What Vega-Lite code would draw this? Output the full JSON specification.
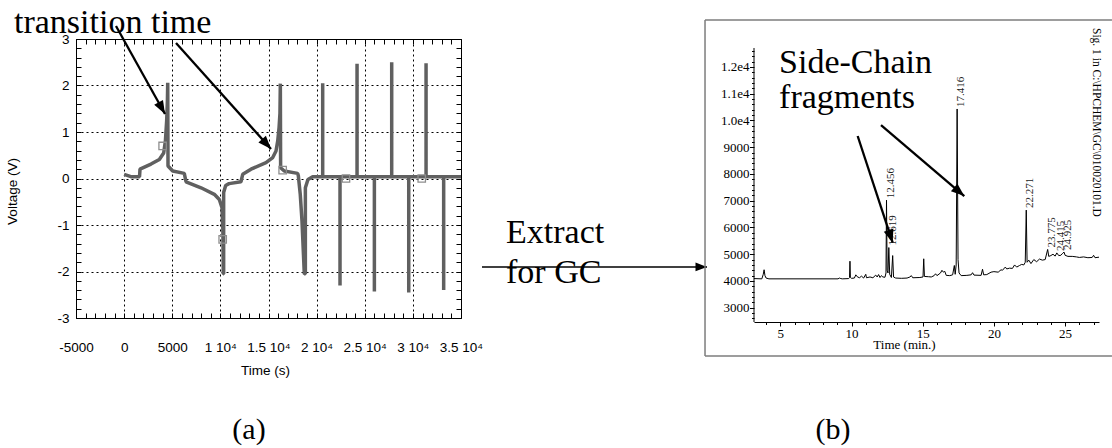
{
  "$schema": "https://vega.github.io/schema/vega-lite/v6.json",
  "padding": 0,
  "autosize": {"type": "pad"},
  "bounds": "flush",
  "spacing": 293,
  "config": {
    "view": {"stroke": null},
    "axis": {
      "labelFont": "Liberation Sans",
      "titleFont": "Liberation Sans",
      "labelColor": "black",
      "titleColor": "black",
      "tickColor": "black",
      "domainColor": "black",
      "titleFontWeight": "normal",
      "labelFlush": false,
      "labelOverlap": false,
      "labelBound": false
    }
  },
  "hconcat": [
    {
      "width": 385,
      "height": 279,
      "view": {"stroke": "black", "strokeWidth": 1},
      "resolve": {"axis": {"x": "independent", "y": "independent"}},
      "layer": [
        {
          "data": {
            "values": [
              {"i": 1, "t": 0, "v": 0.09}, {"i": 2, "t": 700, "v": 0.04}, {"i": 3, "t": 1600, "v": 0.04},
              {"i": 4, "t": 1650, "v": 0.2}, {"i": 5, "t": 2790, "v": 0.31}, {"i": 6, "t": 3660, "v": 0.41},
              {"i": 7, "t": 4110, "v": 0.55}, {"i": 8, "t": 4290, "v": 0.81}, {"i": 9, "t": 4420, "v": 1.24},
              {"i": 10, "t": 4500, "v": 1.7}, {"i": 11, "t": 4530, "v": 2.06}, {"i": 12, "t": 4560, "v": 0.27},
              {"i": 13, "t": 5050, "v": 0.16}, {"i": 14, "t": 6250, "v": 0.11}, {"i": 15, "t": 6430, "v": -0.07},
              {"i": 16, "t": 7990, "v": -0.2}, {"i": 17, "t": 9370, "v": -0.34}, {"i": 18, "t": 9890, "v": -0.45},
              {"i": 19, "t": 10170, "v": -0.63}, {"i": 20, "t": 10260, "v": -1.1}, {"i": 21, "t": 10300, "v": -2.05},
              {"i": 22, "t": 10340, "v": -2.05}, {"i": 23, "t": 10340, "v": -0.3}, {"i": 24, "t": 10550, "v": -0.15},
              {"i": 25, "t": 10900, "v": -0.11}, {"i": 26, "t": 12140, "v": -0.07}, {"i": 27, "t": 12320, "v": 0.09},
              {"i": 28, "t": 13180, "v": 0.2}, {"i": 29, "t": 14740, "v": 0.34}, {"i": 30, "t": 15440, "v": 0.45},
              {"i": 31, "t": 15780, "v": 0.59}, {"i": 32, "t": 15960, "v": 0.81}, {"i": 33, "t": 16100, "v": 1.1},
              {"i": 34, "t": 16190, "v": 1.4}, {"i": 35, "t": 16230, "v": 2.04}, {"i": 36, "t": 16260, "v": 0.23},
              {"i": 37, "t": 16640, "v": 0.16}, {"i": 38, "t": 18030, "v": 0.11}, {"i": 39, "t": 18100, "v": 0.06},
              {"i": 40, "t": 18300, "v": -0.34}, {"i": 41, "t": 18480, "v": -0.91}, {"i": 42, "t": 18720, "v": -2.05},
              {"i": 43, "t": 18830, "v": -2.05}, {"i": 44, "t": 18830, "v": -0.2}, {"i": 45, "t": 19100, "v": -0.02},
              {"i": 46, "t": 19590, "v": 0.04}, {"i": 47, "t": 20630, "v": 0.04}, {"i": 48, "t": 20630, "v": 2.05},
              {"i": 49, "t": 20630, "v": 0.04}, {"i": 50, "t": 22430, "v": 0.04}, {"i": 51, "t": 22430, "v": -2.3},
              {"i": 52, "t": 22430, "v": 0.04}, {"i": 53, "t": 24200, "v": 0.04}, {"i": 54, "t": 24200, "v": 2.47},
              {"i": 55, "t": 24200, "v": 0.04}, {"i": 56, "t": 26000, "v": 0.04}, {"i": 57, "t": 26000, "v": -2.43},
              {"i": 58, "t": 26000, "v": 0.04}, {"i": 59, "t": 27800, "v": 0.04}, {"i": 60, "t": 27800, "v": 2.5},
              {"i": 61, "t": 27800, "v": 0.04}, {"i": 62, "t": 29570, "v": 0.04}, {"i": 63, "t": 29570, "v": -2.45},
              {"i": 64, "t": 29570, "v": 0.04}, {"i": 65, "t": 31370, "v": 0.04}, {"i": 66, "t": 31370, "v": 2.48},
              {"i": 67, "t": 31370, "v": 0.04}, {"i": 68, "t": 33200, "v": 0.04}, {"i": 69, "t": 33200, "v": -2.4},
              {"i": 70, "t": 33200, "v": 0.04}, {"i": 71, "t": 35000, "v": 0.04}
            ]
          },
          "mark": {"type": "line", "color": "#606060", "strokeWidth": 3.5, "strokeJoin": "bevel", "clip": true},
          "encoding": {
            "x": {
              "field": "t", "type": "quantitative",
              "scale": {"domain": [-5000, 35000], "nice": false, "zero": false},
              "axis": {
                "orient": "bottom",
                "values": [-5000, 0, 5000, 10000, 15000, 20000, 25000, 30000, 35000],
                "labelExpr": "datum.value < 10000 ? '' + datum.value : (datum.value / 10000) + ' 10⁴'",
                "labelFontSize": 13.5, "labelPadding": 22,
                "ticks": false, "tickSize": 0, "domain": false,
                "grid": true, "gridColor": "black", "gridDash": [2, 3], "gridWidth": 1, "gridOpacity": 1,
                "title": "Time (s)", "titleFontSize": 13.5,
                "titleX": 189, "titleY": 56, "titleAlign": "center", "titleBaseline": "alphabetic"
              }
            },
            "y": {
              "field": "v", "type": "quantitative",
              "scale": {"domain": [-3, 3], "nice": false, "zero": false},
              "axis": {
                "orient": "left",
                "values": [-3, -2, -1, 0, 1, 2, 3],
                "labelExpr": "'' + datum.value",
                "labelFontSize": 13.5, "labelPadding": 7,
                "ticks": false, "tickSize": 0, "domain": false,
                "grid": true, "gridColor": "black", "gridDash": [2, 3], "gridWidth": 1, "gridOpacity": 1,
                "title": "Voltage (V)", "titleFontSize": 13.5,
                "titleX": -64, "titleY": 152, "titleAngle": -90, "titleAlign": "center", "titleBaseline": "middle"
              }
            },
            "order": {"field": "i", "type": "quantitative"}
          }
        },
        {
          "data": {
            "values": [
              {"t": 4000, "v": 0.7}, {"t": 10240, "v": -1.31}, {"t": 16470, "v": 0.18},
              {"t": 23050, "v": 0.0}, {"t": 30920, "v": 0.0}
            ]
          },
          "mark": {"type": "point", "shape": "square", "filled": false, "size": 55, "stroke": "#8e8e8e", "strokeWidth": 1.3, "opacity": 1},
          "encoding": {
            "x": {
              "field": "t", "type": "quantitative",
              "axis": {
                "orient": "bottom", "offset": -5, "tickSize": 5, "ticks": true, "labels": false, "domain": false, "grid": false, "title": null,
                "values": [-5000, -4000, -3000, -2000, -1000, 0, 1000, 2000, 3000, 4000, 5000, 6000, 7000, 8000, 9000, 10000, 11000, 12000, 13000, 14000, 15000, 16000, 17000, 18000, 19000, 20000, 21000, 22000, 23000, 24000, 25000, 26000, 27000, 28000, 29000, 30000, 31000, 32000, 33000, 34000, 35000]
              }
            },
            "y": {
              "field": "v", "type": "quantitative",
              "axis": {
                "orient": "left", "offset": -5, "tickSize": 5, "ticks": true, "labels": false, "domain": false, "grid": false, "title": null,
                "values": [-3, -2.8, -2.6, -2.4, -2.2, -2, -1.8, -1.6, -1.4, -1.2, -1, -0.8, -0.6, -0.4, -0.2, 0, 0.2, 0.4, 0.6, 0.8, 1, 1.2, 1.4, 1.6, 1.8, 2, 2.2, 2.4, 2.6, 2.8, 3]
              }
            }
          }
        },
        {
          "data": {"values": [{"t": -11440, "v": 3.135, "label": "transition time"}]},
          "mark": {"type": "text", "font": "Liberation Serif", "fontSize": 34, "align": "left", "baseline": "alphabetic", "color": "black", "clip": false},
          "encoding": {
            "x": {
              "field": "t", "type": "quantitative",
              "axis": {
                "orient": "top", "offset": -5, "tickSize": 5, "ticks": true, "labels": false, "domain": false, "grid": false, "title": null,
                "values": [-5000, -4000, -3000, -2000, -1000, 0, 1000, 2000, 3000, 4000, 5000, 6000, 7000, 8000, 9000, 10000, 11000, 12000, 13000, 14000, 15000, 16000, 17000, 18000, 19000, 20000, 21000, 22000, 23000, 24000, 25000, 26000, 27000, 28000, 29000, 30000, 31000, 32000, 33000, 34000, 35000]
              }
            },
            "y": {
              "field": "v", "type": "quantitative",
              "axis": {
                "orient": "right", "offset": -5, "tickSize": 5, "ticks": true, "labels": false, "domain": false, "grid": false, "title": null,
                "values": [-3, -2.8, -2.6, -2.4, -2.2, -2, -1.8, -1.6, -1.4, -1.2, -1, -0.8, -0.6, -0.4, -0.2, 0, 0.2, 0.4, 0.6, 0.8, 1, 1.2, 1.4, 1.6, 1.8, 2, 2.2, 2.4, 2.6, 2.8, 3]
              }
            },
            "text": {"field": "label"}
          }
        },
        {
          "data": {
            "values": [
              {"t": 39680, "v": -1.38, "label": "Extract"},
              {"t": 39680, "v": -2.24, "label": "for GC"}
            ]
          },
          "mark": {"type": "text", "font": "Liberation Serif", "fontSize": 34, "align": "left", "baseline": "alphabetic", "color": "black", "clip": false},
          "encoding": {
            "x": {"field": "t", "type": "quantitative", "axis": null},
            "y": {"field": "v", "type": "quantitative", "axis": null},
            "text": {"field": "label"}
          }
        },
        {
          "data": {"values": [{"t": 12975, "v": -5.6, "label": "(a)"}]},
          "mark": {"type": "text", "font": "Liberation Serif", "fontSize": 30, "align": "center", "baseline": "alphabetic", "color": "black", "clip": false},
          "encoding": {
            "x": {"field": "t", "type": "quantitative", "axis": null},
            "y": {"field": "v", "type": "quantitative", "axis": null},
            "text": {"field": "label"}
          }
        },
        {
          "data": {
            "values": [
              {"id": "a1", "t": -844, "v": 3.28, "t2": 4247, "v2": 1.387},
              {"id": "a2", "t": 5390, "v": 2.914, "t2": 15261, "v2": 0.634},
              {"id": "m", "t": 37180, "v": -1.903, "t2": 60560, "v2": -1.903}
            ]
          },
          "mark": {"type": "rule", "color": "black", "clip": false},
          "encoding": {
            "x": {"field": "t", "type": "quantitative", "axis": null},
            "y": {"field": "v", "type": "quantitative", "axis": null},
            "x2": {"field": "t2"},
            "y2": {"field": "v2"},
            "strokeWidth": {"condition": {"test": "datum.id === 'm'", "value": 1.5}, "value": 2.3}
          }
        },
        {
          "data": {
            "values": [
              {"id": "a1", "t": 4247, "v": 1.387},
              {"id": "a2", "t": 15261, "v": 0.634},
              {"id": "m", "t": 60560, "v": -1.903}
            ]
          },
          "mark": {"type": "point", "shape": "M0,0L-0.38,1L0.38,1Z", "filled": true, "color": "black", "opacity": 1, "clip": false},
          "encoding": {
            "x": {"field": "t", "type": "quantitative", "axis": null},
            "y": {"field": "v", "type": "quantitative", "axis": null},
            "angle": {"condition": [{"test": "datum.id === 'a1'", "value": 151}, {"test": "datum.id === 'a2'", "value": 138}], "value": 90},
            "size": {"condition": {"test": "datum.id === 'm'", "value": 530}, "value": 700}
          }
        },
        {
          "data": {"values": [{"t": -12792, "v": 3.817, "v2": -5.817}]},
          "mark": {"type": "rule", "opacity": 0, "strokeWidth": 0, "clip": false},
          "encoding": {
            "x": {"field": "t", "type": "quantitative", "axis": null},
            "y": {"field": "v", "type": "quantitative", "axis": null},
            "y2": {"field": "v2"}
          }
        }
      ]
    },
    {
      "width": 345,
      "height": 283,
      "view": {"stroke": null},
      "resolve": {"axis": {"x": "independent", "y": "independent"}},
      "layer": [
        {
          "data": {
            "values": [
              {"t": 3.15, "v": 4090}, {"t": 3.7, "v": 4080}, {"t": 3.8, "v": 4250}, {"t": 3.86, "v": 4420},
              {"t": 3.92, "v": 4200}, {"t": 4.0, "v": 4110}, {"t": 4.2, "v": 4080}, {"t": 9.05, "v": 4080},
              {"t": 9.15, "v": 4110}, {"t": 9.25, "v": 4090}, {"t": 9.35, "v": 4080}, {"t": 9.8, "v": 4090},
              {"t": 9.86, "v": 4130}, {"t": 9.89, "v": 4740}, {"t": 9.92, "v": 4130}, {"t": 10.0, "v": 4100},
              {"t": 10.2, "v": 4110}, {"t": 10.3, "v": 4230}, {"t": 10.4, "v": 4160}, {"t": 10.55, "v": 4120},
              {"t": 10.7, "v": 4180}, {"t": 10.85, "v": 4110}, {"t": 11.0, "v": 4250}, {"t": 11.05, "v": 4120},
              {"t": 11.3, "v": 4150}, {"t": 11.5, "v": 4120}, {"t": 11.7, "v": 4220}, {"t": 11.8, "v": 4150},
              {"t": 11.9, "v": 4240}, {"t": 12.0, "v": 4130}, {"t": 12.1, "v": 4200}, {"t": 12.2, "v": 4150},
              {"t": 12.35, "v": 4140}, {"t": 12.42, "v": 4300}, {"t": 12.456, "v": 7020}, {"t": 12.5, "v": 4400},
              {"t": 12.56, "v": 4300}, {"t": 12.619, "v": 5250}, {"t": 12.68, "v": 4250}, {"t": 12.8, "v": 4130},
              {"t": 12.89, "v": 4950}, {"t": 12.95, "v": 4150}, {"t": 13.1, "v": 4110}, {"t": 13.5, "v": 4100},
              {"t": 13.9, "v": 4110}, {"t": 14.1, "v": 4150}, {"t": 14.2, "v": 4200}, {"t": 14.3, "v": 4120},
              {"t": 14.8, "v": 4130}, {"t": 15.02, "v": 4150}, {"t": 15.07, "v": 4830}, {"t": 15.12, "v": 4170},
              {"t": 15.4, "v": 4160}, {"t": 15.6, "v": 4150}, {"t": 15.8, "v": 4200}, {"t": 15.9, "v": 4270},
              {"t": 16.0, "v": 4200}, {"t": 16.25, "v": 4300}, {"t": 16.35, "v": 4400}, {"t": 16.45, "v": 4330},
              {"t": 16.55, "v": 4360}, {"t": 16.65, "v": 4210}, {"t": 16.9, "v": 4200}, {"t": 17.1, "v": 4230},
              {"t": 17.22, "v": 4580}, {"t": 17.28, "v": 4250}, {"t": 17.35, "v": 4600}, {"t": 17.416, "v": 10430},
              {"t": 17.48, "v": 4800}, {"t": 17.55, "v": 4300}, {"t": 17.7, "v": 4200}, {"t": 18.1, "v": 4210},
              {"t": 18.4, "v": 4230}, {"t": 18.5, "v": 4310}, {"t": 18.6, "v": 4220}, {"t": 19.1, "v": 4210},
              {"t": 19.2, "v": 4440}, {"t": 19.28, "v": 4230}, {"t": 19.5, "v": 4240}, {"t": 19.8, "v": 4330},
              {"t": 20.0, "v": 4350}, {"t": 20.3, "v": 4330}, {"t": 20.5, "v": 4420}, {"t": 20.6, "v": 4400},
              {"t": 20.8, "v": 4520}, {"t": 20.9, "v": 4450}, {"t": 21.1, "v": 4480}, {"t": 21.3, "v": 4470},
              {"t": 21.45, "v": 4600}, {"t": 21.6, "v": 4520}, {"t": 21.8, "v": 4580}, {"t": 21.95, "v": 4620},
              {"t": 22.1, "v": 4600}, {"t": 22.2, "v": 4700}, {"t": 22.271, "v": 6650}, {"t": 22.33, "v": 4700},
              {"t": 22.45, "v": 4780}, {"t": 22.6, "v": 4650}, {"t": 22.8, "v": 4800}, {"t": 23.0, "v": 4720},
              {"t": 23.2, "v": 4820}, {"t": 23.4, "v": 4780}, {"t": 23.6, "v": 4800}, {"t": 23.775, "v": 5180},
              {"t": 23.85, "v": 4920}, {"t": 24.0, "v": 4950}, {"t": 24.15, "v": 5000}, {"t": 24.3, "v": 4930},
              {"t": 24.415, "v": 5050}, {"t": 24.55, "v": 4950}, {"t": 24.7, "v": 4960}, {"t": 24.8, "v": 5020},
              {"t": 24.925, "v": 5080}, {"t": 25.0, "v": 4960}, {"t": 25.2, "v": 4920}, {"t": 25.5, "v": 4920},
              {"t": 25.8, "v": 4900}, {"t": 26.0, "v": 4880}, {"t": 26.3, "v": 4900}, {"t": 26.6, "v": 4870},
              {"t": 26.9, "v": 4880}, {"t": 27.0, "v": 4960}, {"t": 27.1, "v": 4870}, {"t": 27.38, "v": 4890}
            ]
          },
          "mark": {"type": "line", "color": "black", "strokeWidth": 1, "clip": true},
          "encoding": {
            "x": {
              "field": "t", "type": "quantitative",
              "scale": {"domain": [3.15, 27.38], "nice": false, "zero": false},
              "axis": {
                "orient": "bottom", "values": [5, 10, 15, 20, 25],
                "labelFont": "Liberation Serif", "labelFontSize": 13, "labelPadding": 1.5,
                "tickSize": 4, "domain": true, "domainWidth": 1, "grid": false,
                "title": "Time (min.)", "titleFont": "Liberation Serif", "titleFontSize": 13,
                "titleX": 150, "titleY": 26, "titleAlign": "center", "titleBaseline": "alphabetic"
              }
            },
            "y": {
              "field": "v", "type": "quantitative",
              "scale": {"domain": [2467, 13046], "nice": false, "zero": false},
              "axis": {
                "orient": "left", "values": [3000, 4000, 5000, 6000, 7000, 8000, 9000, 10000, 11000, 12000],
                "labelExpr": "datum.value >= 10000 ? format(datum.value / 10000, '.1f') + 'e4' : '' + datum.value",
                "labelFont": "Liberation Serif", "labelFontSize": 13, "labelPadding": 0.5,
                "tickSize": 4.5, "domain": false, "grid": false, "title": null
              }
            }
          }
        },
        {
          "data": {
            "values": [
              {"t": 12.456, "v": 7020, "label": "12.456"},
              {"t": 12.619, "v": 5250, "label": "12.619"},
              {"t": 17.416, "v": 10430, "label": "17.416"},
              {"t": 22.271, "v": 6650, "label": "22.271"},
              {"t": 23.775, "v": 5180, "label": "23.775"},
              {"t": 24.415, "v": 5050, "label": "24.415"},
              {"t": 24.925, "v": 5080, "label": "24.925"}
            ]
          },
          "mark": {"type": "text", "font": "Liberation Serif", "fontSize": 11, "angle": -90, "align": "left", "baseline": "middle", "dx": 2, "dy": 4, "color": "#222222", "clip": false},
          "encoding": {
            "x": {
              "field": "t", "type": "quantitative",
              "axis": {
                "orient": "bottom", "tickSize": 2.5, "ticks": true, "labels": false, "domain": false, "grid": false, "title": null,
                "values": [4, 6, 7, 8, 9, 11, 12, 13, 14, 16, 17, 18, 19, 21, 22, 23, 24, 26, 27]
              }
            },
            "y": {
              "field": "v", "type": "quantitative",
              "axis": {
                "orient": "left", "tickSize": 2.5, "ticks": true, "labels": false, "domain": false, "grid": false, "title": null,
                "values": [2600, 2800, 3200, 3400, 3600, 3800, 4200, 4400, 4600, 4800, 5200, 5400, 5600, 5800, 6200, 6400, 6600, 6800, 7200, 7400, 7600, 7800, 8200, 8400, 8600, 8800, 9200, 9400, 9600, 9800, 10200, 10400, 10600, 10800, 11200, 11400, 11600, 11800, 12200, 12400, 12600]
              }
            },
            "text": {"field": "label"}
          }
        },
        {
          "data": {"values": [{"t": 3.15, "v": 2467, "v2": 12710}]},
          "mark": {"type": "rule", "color": "black", "strokeWidth": 1, "clip": false},
          "encoding": {
            "x": {"field": "t", "type": "quantitative", "axis": null},
            "y": {"field": "v", "type": "quantitative", "axis": null},
            "y2": {"field": "v2"}
          }
        },
        {
          "data": {
            "values": [
              {"t": -0.29, "v": 13756, "t2": 28.29, "v2": 13756},
              {"t": -0.29, "v": 13756, "t2": -0.29, "v2": 1197},
              {"t": -0.29, "v": 1197, "t2": 28.29, "v2": 1197}
            ]
          },
          "mark": {"type": "rule", "color": "#7d7d7d", "strokeWidth": 1.5, "clip": false},
          "encoding": {
            "x": {"field": "t", "type": "quantitative", "axis": null},
            "y": {"field": "v", "type": "quantitative", "axis": null},
            "x2": {"field": "t2"},
            "y2": {"field": "v2"}
          }
        },
        {
          "data": {
            "values": [
              {"t": 4.91, "v": 11775, "label": "Side-Chain"},
              {"t": 4.91, "v": 10467, "label": "fragments"}
            ]
          },
          "mark": {"type": "text", "font": "Liberation Serif", "fontSize": 34, "align": "left", "baseline": "alphabetic", "color": "black", "clip": false},
          "encoding": {
            "x": {"field": "t", "type": "quantitative", "axis": null},
            "y": {"field": "v", "type": "quantitative", "axis": null},
            "text": {"field": "label"}
          }
        },
        {
          "data": {"values": [{"t": 8.7, "v": -1906, "label": "(b)"}]},
          "mark": {"type": "text", "font": "Liberation Serif", "fontSize": 30, "align": "center", "baseline": "alphabetic", "color": "black", "clip": false},
          "encoding": {
            "x": {"field": "t", "type": "quantitative", "axis": null},
            "y": {"field": "v", "type": "quantitative", "axis": null},
            "text": {"field": "label"}
          }
        },
        {
          "data": {"values": [{"t": 27.17, "v": 13457, "label": "Sig. 1 in C:\\HPCHEM\\GC\\010020101.D"}]},
          "mark": {"type": "text", "font": "Liberation Serif", "fontSize": 11.5, "angle": 90, "align": "left", "baseline": "middle", "color": "black", "clip": false},
          "encoding": {
            "x": {"field": "t", "type": "quantitative", "axis": null},
            "y": {"field": "v", "type": "quantitative", "axis": null},
            "text": {"field": "label"}
          }
        },
        {
          "data": {
            "values": [
              {"id": "b1", "t": 10.43, "v": 9420, "t2": 12.89, "v2": 5432},
              {"id": "b2", "t": 12.07, "v": 9831, "t2": 17.92, "v2": 7177}
            ]
          },
          "mark": {"type": "rule", "color": "black", "strokeWidth": 2.3, "clip": false},
          "encoding": {
            "x": {"field": "t", "type": "quantitative", "axis": null},
            "y": {"field": "v", "type": "quantitative", "axis": null},
            "x2": {"field": "t2"},
            "y2": {"field": "v2"}
          }
        },
        {
          "data": {
            "values": [
              {"id": "b1", "t": 12.89, "v": 5432},
              {"id": "b2", "t": 17.92, "v": 7177}
            ]
          },
          "mark": {"type": "point", "shape": "M0,0L-0.38,1L0.38,1Z", "filled": true, "color": "black", "opacity": 1, "size": 700, "clip": false},
          "encoding": {
            "x": {"field": "t", "type": "quantitative", "axis": null},
            "y": {"field": "v", "type": "quantitative", "axis": null},
            "angle": {"condition": {"test": "datum.id === 'b1'", "value": 162}, "value": 130}
          }
        }
      ]
    }
  ]
}
